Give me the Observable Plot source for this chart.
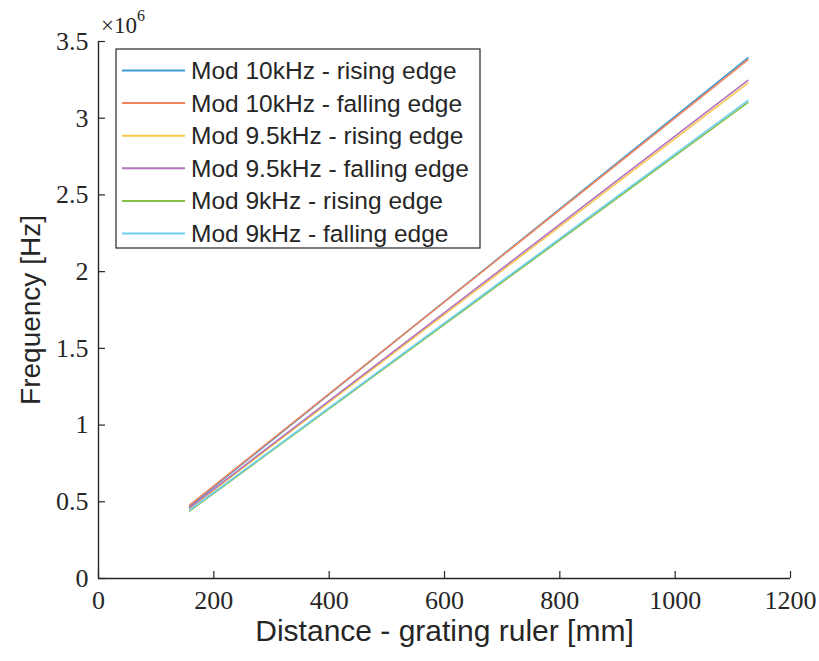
<!DOCTYPE html>
<html>
<head>
<meta charset="utf-8">
<script src="https://cdn.jsdelivr.net/npm/d3@7"></script>
<script src="https://cdn.jsdelivr.net/npm/@observablehq/plot@0.6"></script>
<style>
  html, body { margin: 0; padding: 0; background: #fff; }
  #chart { width: 819px; height: 661px; }
</style>
</head>
<body>
<div id="chart"></div>
<script>
// Measured beat frequency against grating-ruler distance, per modulation setting
const distance = [158, 1126]; // mm, first and last measurement position

const seriesNames = [
  "Mod 10kHz - rising edge",
  "Mod 10kHz - falling edge",
  "Mod 9.5kHz - rising edge",
  "Mod 9.5kHz - falling edge",
  "Mod 9kHz - rising edge",
  "Mod 9kHz - falling edge"
];
const seriesColors = ["#3d9bd6", "#f0845c", "#f9c74f", "#b272bd", "#86c04a", "#6ccff3"];

// Frequency [Hz] at each distance
const mod10Rising   = [0.470e6, 3.394e6];
const mod10Falling  = [0.478e6, 3.381e6];
const mod95Rising   = [0.455e6, 3.228e6];
const mod95Falling  = [0.462e6, 3.246e6];
const mod9Rising    = [0.440e6, 3.102e6];
const mod9Falling   = [0.445e6, 3.115e6];

const xTicks = [0, 200, 400, 600, 800, 1000, 1200];
const yTicks = [0, 0.5e6, 1e6, 1.5e6, 2e6, 2.5e6, 3e6, 3.5e6];

const seriesValues = [mod10Rising, mod10Falling, mod95Rising, mod95Falling, mod9Rising, mod9Falling];
const rows = seriesValues.flatMap((vals, i) =>
  vals.map((f, j) => ({series: seriesNames[i], d: distance[j], f}))
);

const W = 819, H = 661;
const mL = 98, mR = 29, mT = 41, mB = 83;
const innerW = W - mL - mR, innerH = H - mT - mB;
const ink = "#262626";
const serif = "'Liberation Serif', 'DejaVu Serif', serif";
const sans = "'Liberation Sans', Arial, sans-serif";

const chart = Plot.plot({
  width: W, height: H,
  marginLeft: mL, marginRight: mR, marginTop: mT, marginBottom: mB,
  style: {background: "#fff", color: ink, overflow: "visible"},
  x: {domain: [0, 1200]},
  y: {domain: [0, 3.5e6]},
  color: {domain: seriesNames, range: seriesColors},
  marks: [
    Plot.axisX({ticks: xTicks, tickSize: 0, tickPadding: 12, label: null,
      tickFormat: d => String(d), fontSize: 26, fontFamily: serif, fill: ink}),
    Plot.axisY({ticks: yTicks, tickSize: 0, tickPadding: 10, label: null,
      tickFormat: d => String(d / 1e6), fontSize: 26, fontFamily: serif, fill: ink}),
    // inward tick marks
    Plot.tickX(xTicks, {x: d => d, insetTop: innerH - 7, stroke: ink, strokeWidth: 1.2}),
    Plot.tickY(yTicks, {y: d => d, insetRight: innerW - 7, stroke: ink, strokeWidth: 1.2}),
    Plot.ruleX([0], {stroke: ink, strokeWidth: 1.4}),
    Plot.ruleY([0], {stroke: ink, strokeWidth: 1.4}),
    Plot.line(rows, {x: "d", y: "f", z: "series", stroke: "series", strokeWidth: 1.6}),
    // axis titles
    Plot.text(["Distance - grating ruler [mm]"], {frameAnchor: "bottom", dy: 62,
      text: d => d, fontSize: 30, fontFamily: sans, fill: ink}),
    Plot.text(["Frequency [Hz]"], {frameAnchor: "left", dx: -67, rotate: -90,
      textAnchor: "middle", text: d => d, fontSize: 28, fontFamily: sans, fill: ink})
  ]
});

const svg = d3.select(chart);

// Exponent label for the y axis
const expo = svg.append("text")
  .attr("x", 101).attr("y", 33)
  .attr("text-anchor", "start")
  .attr("font-family", serif).attr("font-size", 23).attr("fill", ink);
expo.append("tspan").text("\u00d710");
expo.append("tspan").attr("dy", -12).attr("font-size", 16).text("6");

// Legend box in the upper-left of the plot area
const legend = svg.append("g").attr("class", "legend").attr("text-anchor", "start");
const lx = 116, ly = 49, lw = 364, lh = 199, rowH = 32.6, firstRow = 70.5;
legend.append("rect")
  .attr("x", lx).attr("y", ly).attr("width", lw).attr("height", lh)
  .attr("fill", "#fff").attr("stroke", ink).attr("stroke-width", 1.2);
seriesNames.forEach((name, i) => {
  const cy = firstRow + i * rowH;
  legend.append("line")
    .attr("x1", 122).attr("x2", 185).attr("y1", cy).attr("y2", cy)
    .attr("stroke", seriesColors[i]).attr("stroke-width", 2);
  legend.append("text")
    .attr("x", 191).attr("y", cy).attr("dy", "0.35em")
    .attr("text-anchor", "start")
    .attr("font-family", sans).attr("font-size", 24.5).attr("fill", ink)
    .text(name);
});

document.getElementById("chart").appendChild(chart);
</script>
</body>
</html>
